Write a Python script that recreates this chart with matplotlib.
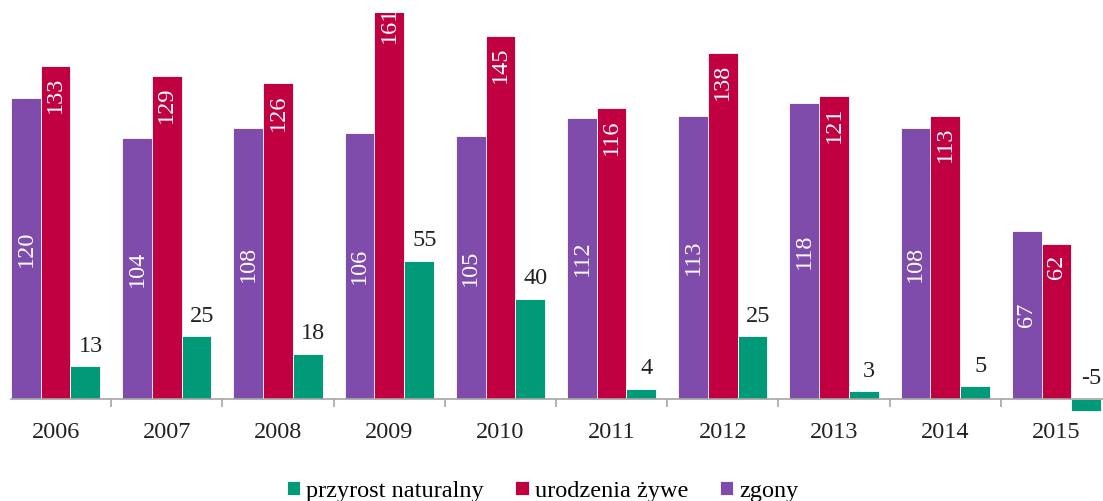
import numpy as np
import matplotlib.pyplot as plt

# dane
lata = ['2006', '2007', '2008', '2009', '2010', '2011', '2012', '2013', '2014', '2015']
zgony = [120, 104, 108, 106, 105, 112, 113, 118, 108, 67]
urodzenia = [133, 129, 126, 161, 145, 116, 138, 121, 113, 62]
przyrost = [13, 25, 18, 55, 40, 4, 25, 3, 5, -5]

kolor_zgony = '#804CAC'
kolor_urodzenia = '#C00040'
kolor_przyrost = '#009A78'

plt.rcParams['font.family'] = ['Liberation Serif', 'DejaVu Serif']
rozmiar = 17.5

fig = plt.figure(figsize=(11.03, 5.01), dpi=100)
ax = fig.add_axes([0, 0.1737, 1, 0.8004])

x = np.arange(len(lata))
w = 0.267

b1 = ax.bar(x - w, zgony, w, color=kolor_zgony, edgecolor='white', linewidth=0.6)
b2 = ax.bar(x, urodzenia, w, color=kolor_urodzenia, edgecolor='white', linewidth=0.6)
b3 = ax.bar(x + w, przyrost, w, color=kolor_przyrost, edgecolor='white', linewidth=0.6)

ax.set_xlim(-0.5, -0.5 + 1103 / 111.2)
ax.set_ylim(-6, 154)

# etykiety wartosci
for i in range(len(lata)):
    ax.text(x[i] - w, zgony[i] / 2, str(zgony[i]), rotation=90, ha='center', va='center',
            color='white', fontsize=rozmiar)
    ax.annotate(str(urodzenia[i]), (x[i], urodzenia[i]), xytext=(0, -8), textcoords='offset points',
                rotation=90, ha='center', va='top', color='white', fontsize=rozmiar,
                annotation_clip=False, clip_on=True)
    ax.annotate(str(przyrost[i]), (x[i] + w, max(przyrost[i], 0)), xytext=(4, 7),
                textcoords='offset points', ha='center', va='bottom', color='#222222', fontsize=rozmiar)

# os x
for s in ['top', 'left', 'right']:
    ax.spines[s].set_visible(False)
ax.spines['bottom'].set_position(('data', 0))
ax.spines['bottom'].set_color('#A6A6A6')
ax.spines['bottom'].set_linewidth(1.2)
ax.spines['bottom'].set_bounds(x[0] - 1.5 * w, ax.get_xlim()[1])
ax.set_yticks([])
ax.set_xticks(x)
ax.set_xticklabels(lata, fontsize=rozmiar, color='#222222')
ax.tick_params(axis='x', which='major', length=0, pad=16.5)
ax.set_xticks(x[:-1] + 0.5, minor=True)
ax.tick_params(axis='x', which='minor', length=6, width=1.2, color='#A6A6A6', direction='out')

fig.legend([b3, b2, b1], ['przyrost naturalny', 'urodzenia żywe', 'zgony'],
           loc='lower center', bbox_to_anchor=(0.492, -0.045), ncol=3, frameon=False,
           fontsize=rozmiar, handlelength=0.55, handleheight=0.55, handletextpad=0.25,
           columnspacing=1.3)

fig.savefig('out.png', dpi=100)
